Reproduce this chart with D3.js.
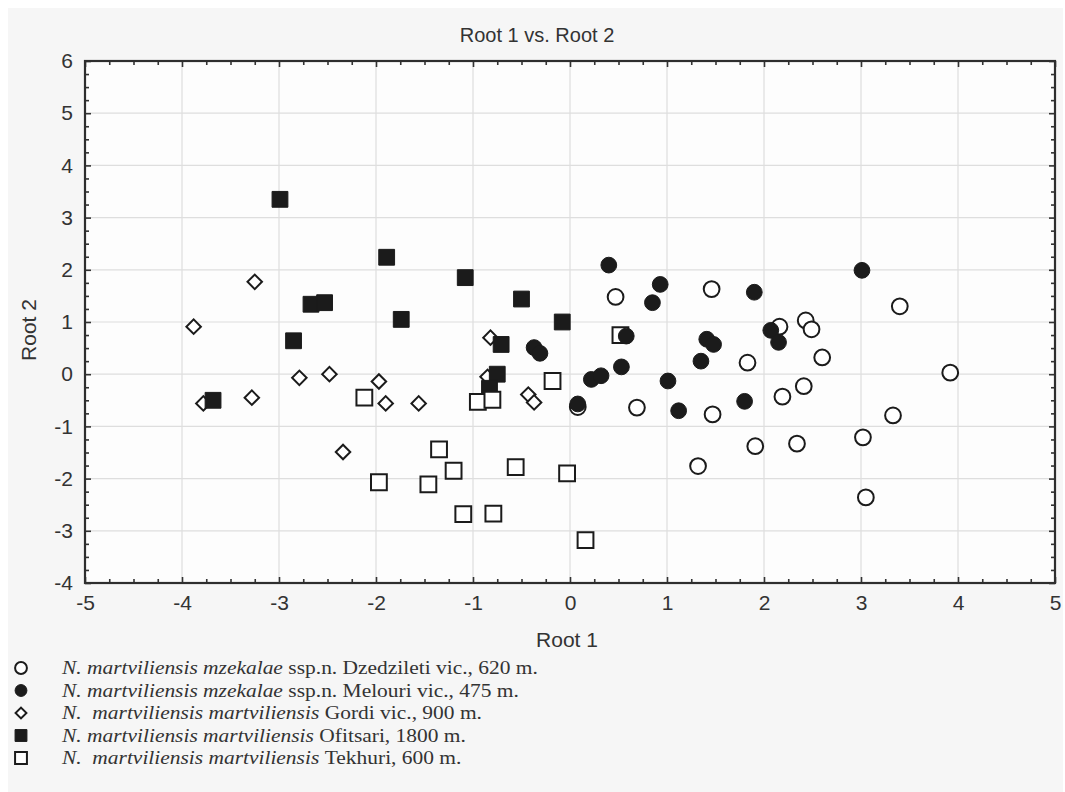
<!DOCTYPE html>
<html>
<head>
<meta charset="utf-8">
<script src="https://cdn.jsdelivr.net/npm/d3@7"></script>
<style>
  body { margin: 0; background: #fff; }
</style>
</head>
<body>
<div id="chart"></div>
<script>
// Root 1 / Root 2 scores
const dzedziletiX = [0.47, 1.46, 0.69, 1.47, 1.32, 0.08, 2.16, 2.43, 2.49, 3.40, 2.60, 1.83, 3.92, 2.41, 2.19, 3.33, 3.02, 1.91, 2.34, 3.05];
const dzedziletiY = [1.48, 1.63, -0.64, -0.77, -1.76, -0.63, 0.91, 1.03, 0.86, 1.30, 0.32, 0.22, 0.03, -0.23, -0.43, -0.79, -1.21, -1.38, -1.33, -2.36];

const melouriX = [0.40, 0.93, 0.85, 0.58, -0.37, -0.31, 0.53, 0.22, 0.32, 1.01, 0.08, 1.12, 1.41, 1.48, 1.35, 3.01, 1.90, 2.07, 2.15, 1.80];
const melouriY = [2.09, 1.72, 1.37, 0.73, 0.51, 0.40, 0.14, -0.10, -0.03, -0.13, -0.57, -0.70, 0.67, 0.57, 0.25, 1.99, 1.57, 0.84, 0.61, -0.52];

const gordiX = [-3.88, -3.25, -3.78, -3.28, -2.79, -2.48, -2.34, -1.97, -1.90, -1.56, -0.82, -0.85, -0.43, -0.37];
const gordiY = [0.91, 1.77, -0.56, -0.45, -0.07, 0.00, -1.49, -0.14, -0.56, -0.56, 0.70, -0.05, -0.39, -0.54];

const ofitsariX = [-2.99, -1.89, -2.67, -2.53, -1.74, -2.85, -3.68, -1.08, -0.50, -0.08, -0.71, -0.75, -0.83];
const ofitsariY = [3.35, 2.24, 1.34, 1.37, 1.05, 0.64, -0.50, 1.85, 1.44, 1.00, 0.57, 0.00, -0.27];

const tekhuriX = [-2.12, -1.97, -0.95, -0.80, -0.18, -1.35, -1.20, -1.46, -0.56, -0.03, -1.10, -0.79, 0.16, 0.52];
const tekhuriY = [-0.45, -2.07, -0.53, -0.49, -0.13, -1.44, -1.85, -2.11, -1.78, -1.90, -2.68, -2.67, -3.18, 0.75];

const xTicks = [-5, -4, -3, -2, -1, 0, 1, 2, 3, 4, 5];
const yTicks = [-4, -3, -2, -1, 0, 1, 2, 3, 4, 5, 6];

const groups = [
  { name: "Dzedzileti", xs: dzedziletiX, ys: dzedziletiY, shape: "circle", filled: false,
    italic: "N. martviliensis mzekalae", rest: "ssp.n. Dzedzileti vic., 620 m." },
  { name: "Melouri", xs: melouriX, ys: melouriY, shape: "circle", filled: true,
    italic: "N. martviliensis mzekalae", rest: "ssp.n. Melouri vic., 475 m." },
  { name: "Gordi", xs: gordiX, ys: gordiY, shape: "diamond", filled: false,
    italic: "N.  martviliensis martviliensis", rest: "Gordi vic., 900 m." },
  { name: "Ofitsari", xs: ofitsariX, ys: ofitsariY, shape: "square", filled: true,
    italic: "N. martviliensis martviliensis", rest: "Ofitsari, 1800 m." },
  { name: "Tekhuri", xs: tekhuriX, ys: tekhuriY, shape: "square", filled: false,
    italic: "N.  martviliensis martviliensis", rest: "Tekhuri, 600 m." }
];

const W = 1065, H = 792;
const margin = { left: 85, right: 10, top: 61, bottom: 209 };
const iw = W - margin.left - margin.right;
const ih = H - margin.top - margin.bottom;
const sans = "Liberation Sans, Arial, sans-serif";
const serif = "Liberation Serif, Times New Roman, serif";

const svg = d3.select("#chart").append("svg")
  .attr("width", W)
  .attr("height", H);

svg.append("rect")
  .attr("x", 8).attr("y", 8)
  .attr("width", W - 10).attr("height", H - 8)
  .attr("fill", "#f6f6f6");

const x = d3.scaleLinear().domain([-5, 5]).range([0, iw]);
const y = d3.scaleLinear().domain([-4, 6]).range([ih, 0]);

const g = svg.append("g").attr("transform", `translate(${margin.left},${margin.top})`);

g.append("rect").attr("width", iw).attr("height", ih).attr("fill", "#fdfdfd");

// grid
g.append("g").selectAll("line")
  .data(xTicks.slice(1, -1))
  .join("line")
    .attr("x1", d => x(d)).attr("x2", d => x(d))
    .attr("y1", 0).attr("y2", ih)
    .attr("stroke", "#dedede").attr("stroke-width", 1.2);
g.append("g").selectAll("line")
  .data(yTicks.slice(1, -1))
  .join("line")
    .attr("y1", d => y(d)).attr("y2", d => y(d))
    .attr("x1", 0).attr("x2", iw)
    .attr("stroke", "#dedede").attr("stroke-width", 1.2);

// minor ticks (quarters), inward on every side
const xMinor = d3.range(-5, 5.001, 0.25);
const yMinor = d3.range(-4, 6.001, 0.25);
const isMajor = v => Math.abs(v - Math.round(v)) < 1e-6;

function tickAxis(axis, scale, vals, transform) {
  const a = axis(scale).tickValues(vals).tickSizeOuter(0).tickFormat("");
  const sel = g.append("g").attr("transform", transform).call(a);
  sel.select(".domain").remove();
  sel.selectAll(".tick line")
    .attr("stroke", "#333")
    .attr("stroke-width", 1.6);
  return sel;
}
tickAxis(d3.axisBottom, x, xMinor, `translate(0,${ih})`).selectAll(".tick line").attr("y2", d => isMajor(d) ? -6 : -4);
tickAxis(d3.axisTop, x, xMinor, "translate(0,0)").selectAll(".tick line").attr("y2", d => isMajor(d) ? 6 : 4);
tickAxis(d3.axisLeft, y, yMinor, "translate(0,0)").selectAll(".tick line").attr("x2", d => isMajor(d) ? 6 : 4);
tickAxis(d3.axisRight, y, yMinor, `translate(${iw},0)`).selectAll(".tick line").attr("x2", d => isMajor(d) ? -6 : -4);

// labels
const xAxis = g.append("g").attr("transform", `translate(0,${ih})`)
  .call(d3.axisBottom(x).tickValues(xTicks).tickSize(0).tickPadding(12).tickFormat(d => String(d)));
xAxis.select(".domain").remove();
xAxis.attr("font-family", sans).attr("font-size", 21);
xAxis.selectAll("text").attr("fill", "#333");

const yAxis = g.append("g")
  .call(d3.axisLeft(y).tickValues(yTicks).tickSize(0).tickPadding(12).tickFormat(d => String(d)));
yAxis.select(".domain").remove();
yAxis.attr("font-family", sans).attr("font-size", 21);
yAxis.selectAll("text").attr("fill", "#333");

// frame
g.append("rect").attr("width", iw).attr("height", ih)
  .attr("fill", "none").attr("stroke", "#2e2e2e").attr("stroke-width", 2.2);

// titles
svg.append("text")
  .attr("x", 537).attr("y", 42)
  .attr("text-anchor", "middle")
  .attr("font-family", sans)
  .attr("font-size", 20).attr("fill", "#333")
  .text("Root 1 vs. Root 2");

svg.append("text")
  .attr("x", 567).attr("y", 647)
  .attr("text-anchor", "middle")
  .attr("font-family", sans)
  .attr("font-size", 21).attr("fill", "#333")
  .text("Root 1");

svg.append("text")
  .attr("transform", "translate(36,330) rotate(-90)")
  .attr("text-anchor", "middle")
  .attr("font-family", sans)
  .attr("font-size", 21).attr("fill", "#333")
  .text("Root 2");

// markers
function symbolFor(shape, scaleK) {
  const k = scaleK || 1;
  if (shape === "circle") return d3.symbol(d3.symbolCircle, 195 * k * k)();
  if (shape === "square") return d3.symbol(d3.symbolSquare, 250 * k * k)();
  return d3.symbol(d3.symbolSquare, 105 * k * k)();
}
function styleMark(sel, grp) {
  sel.attr("fill", grp.filled ? "#1b1b1b" : "#ffffff")
     .attr("stroke", "#1b1b1b")
     .attr("stroke-width", grp.filled ? 1 : 2);
}

const drawOrder = [2, 3, 4, 0, 1];
drawOrder.forEach(i => {
  const grp = groups[i];
  const pts = grp.xs.map((v, j) => [v, grp.ys[j]]);
  g.append("g").selectAll("path")
    .data(pts)
    .join("path")
      .attr("d", symbolFor(grp.shape))
      .attr("transform", d => `translate(${x(d[0])},${y(d[1])})` + (grp.shape === "diamond" ? " rotate(45)" : ""))
      .call(styleMark, grp);
});

// legend: italic name, then plain locality placed right after it
const legend = svg.append("g").attr("transform", "translate(0,668)");
groups.forEach((grp, i) => {
  const row = legend.append("g").attr("transform", `translate(0,${i * 22.5})`);
  row.append("path")
    .attr("d", symbolFor(grp.shape, 0.75))
    .attr("transform", "translate(21,0)" + (grp.shape === "diamond" ? " rotate(45)" : ""))
    .call(styleMark, grp);
  const txt = row.append("g").attr("transform", "translate(62,6) scale(1.1,1)");
  const it = txt.append("text")
    .attr("font-family", serif).attr("font-style", "italic")
    .attr("font-size", 19.5).attr("fill", "#333")
    .style("white-space", "pre")
    .text(grp.italic);
  const w = it.node().getComputedTextLength();
  txt.append("text")
    .attr("x", w + 5)
    .attr("font-family", serif)
    .attr("font-size", 19.5).attr("fill", "#333")
    .text(grp.rest);
});
</script>
</body>
</html>
